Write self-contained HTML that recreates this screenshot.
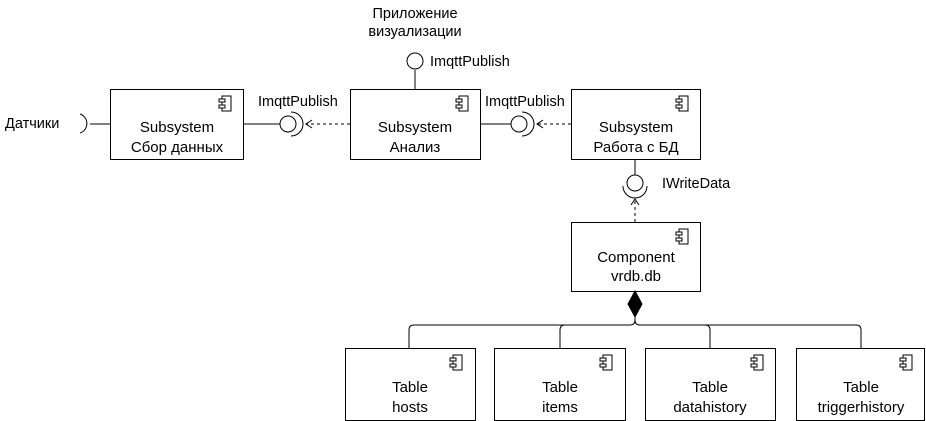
<!DOCTYPE html>
<html><head><meta charset="utf-8"><style>
body{margin:0;background:#fff}
svg{display:block}
text{font-family:"Liberation Sans",sans-serif;font-size:14.5px;fill:#000}
.b{font-size:15px}
</style></head><body>
<svg width="926" height="421" viewBox="0 0 926 421" xmlns="http://www.w3.org/2000/svg">
<defs>
<g id="ic"><rect x="3" y="0" width="9" height="15" fill="#fff" stroke="#000"/><rect x="0" y="3" width="6" height="3" fill="#fff" stroke="#000"/><rect x="0" y="9" width="6" height="3" fill="#fff" stroke="#000"/></g>
</defs>
<g fill="none" stroke="#000" stroke-width="1">
<rect x="110.5" y="89.5" width="133" height="70" fill="#fff"/>
<rect x="350.5" y="89.5" width="130" height="70" fill="#fff"/>
<rect x="571.5" y="89.5" width="129" height="70" fill="#fff"/>
<rect x="571.5" y="222.5" width="129" height="69" fill="#fff"/>
<rect x="345.5" y="348.5" width="130" height="72" fill="#fff"/>
<rect x="494.5" y="348.5" width="131" height="72" fill="#fff"/>
<rect x="645.5" y="348.5" width="130" height="72" fill="#fff"/>
<rect x="796.5" y="348.5" width="128" height="72" fill="#fff"/>
<path d="M80 114 A10 10 0 0 1 80 133"/>
<line x1="90" y1="124" x2="110" y2="124"/>
<line x1="243" y1="124" x2="280" y2="124"/>
<circle cx="288" cy="124" r="8"/>
<path d="M291 112 A12 12 0 0 1 291 136"/>
<line x1="350" y1="124" x2="306" y2="124" stroke-dasharray="3,3"/>
<path d="M312 120 L306 124 L312 128"/>
<line x1="480" y1="124" x2="511" y2="124"/>
<circle cx="519" cy="124" r="8"/>
<path d="M522 112 A12 12 0 0 1 522 136"/>
<line x1="571" y1="124" x2="537" y2="124" stroke-dasharray="3,3"/>
<path d="M543 120 L537 124 L543 128"/>
<line x1="415" y1="89" x2="415" y2="70"/>
<circle cx="415" cy="61" r="8"/>
<line x1="635" y1="160" x2="635" y2="175"/>
<circle cx="635" cy="183" r="8"/>
<path d="M623 186 A12 12 0 0 0 647 186"/>
<line x1="635" y1="222" x2="635" y2="199" stroke-dasharray="3,3"/>
<path d="M631 205 L635 199 L639 205"/>
<path d="M635 291 L642 304 L635 317 L628 304 Z" fill="#000"/>
<path d="M635 317 L635 320 Q635 325 630 325 L414 325 Q409 325 409 330 L409 348"/>
<path d="M635 320 Q635 325 640 325 L856 325 Q861 325 861 330 L861 348"/>
<path d="M565 325 Q560 325 560 330 L560 348"/>
<path d="M705 325 Q710 325 710 330 L710 348"/>
</g>
<use href="#ic" x="219" y="96"/>
<use href="#ic" x="456" y="96"/>
<use href="#ic" x="676" y="96"/>
<use href="#ic" x="676" y="229"/>
<use href="#ic" x="450" y="355"/>
<use href="#ic" x="600" y="355"/>
<use href="#ic" x="751" y="355"/>
<use href="#ic" x="900" y="355"/>
<text x="5" y="128">Датчики</text>
<text x="258" y="106">ImqttPublish</text>
<text x="485" y="106">ImqttPublish</text>
<text x="430" y="66">ImqttPublish</text>
<text x="662" y="188">IWriteData</text>
<text x="415" y="18" text-anchor="middle">Приложение</text>
<text x="415" y="36" text-anchor="middle">визуализации</text>
<g text-anchor="middle">
<text class="b" x="177" y="132">Subsystem</text><text class="b" x="177" y="152">Сбор данных</text>
<text class="b" x="415" y="132">Subsystem</text><text class="b" x="415" y="152">Анализ</text>
<text class="b" x="636" y="132">Subsystem</text><text class="b" x="636" y="152">Работа с БД</text>
<text class="b" x="636" y="262">Component</text><text class="b" x="636" y="281">vrdb.db</text>
<text class="b" x="410" y="392">Table</text><text class="b" x="410" y="412">hosts</text>
<text class="b" x="560" y="392">Table</text><text class="b" x="560" y="412">items</text>
<text class="b" x="710" y="392">Table</text><text class="b" x="710" y="412">datahistory</text>
<text class="b" x="861" y="392">Table</text><text class="b" x="861" y="412">triggerhistory</text>
</g>
</svg>
</body></html>
